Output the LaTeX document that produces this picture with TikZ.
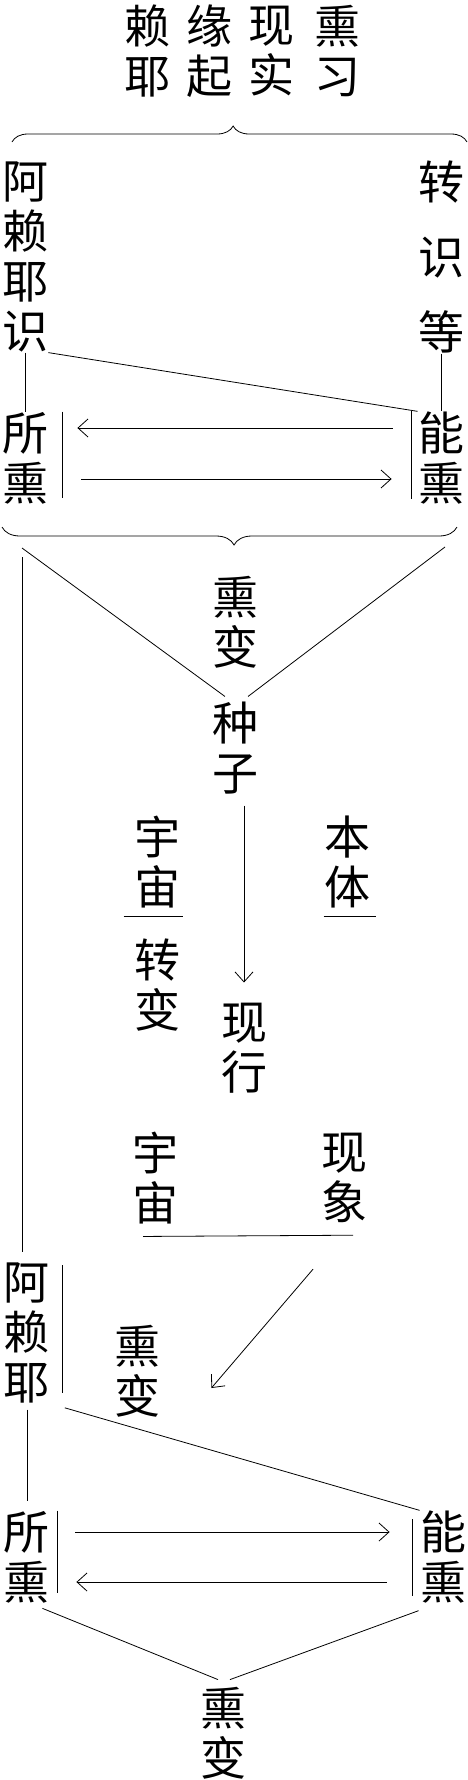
\documentclass[tikz,border=0pt]{standalone}
\usepackage{fontspec}
\newfontfamily\cjk{Noto Sans CJK SC}
\usetikzlibrary{arrows.meta,decorations.pathreplacing}
\tikzset{
  zi/.style={font=\cjk\fontsize{46pt}{50pt}\selectfont, align=center, inner sep=0pt},
  ziloose/.style={zi, font=\cjk\fontsize{46pt}{75pt}\selectfont},
  bracetop/.style={decorate, decoration={brace, amplitude=16pt, aspect=.486}},
  bracebot/.style={decorate, decoration={brace, mirror, amplitude=18pt, aspect=.51}},
}

\begin{document}
\begin{tikzpicture}[x=1pt, y=-1pt, line width=.8pt, >={Straight Barb[length=10pt,width=18pt]}]
  \useasboundingbox (0,0) rectangle (468,1780);
  \foreach \x/\a/\b [count=\i] in {147/赖/耶, 209/缘/起, 271/现/实, 337/熏/习}
    \node[zi] (top\i) at (\x,51) {\a\\\b};
  \coordinate (br1w) at (12,142);
  \coordinate (br1e) at (467,142);
  \draw[bracetop] (br1w) -- (br1e);

  \node[zi] (alaya1) at (25,257) {阿\\赖\\耶\\识};
  \node[ziloose] (zhuan) at (441,257) {转\\识\\等};
  \node[zi] (suo1) at (25,458) {所\\熏};
  \node[zi] (neng1) at (441,458) {能\\熏};
  \draw (alaya1) -- (suo1);
  \draw (zhuan) -- (neng1);
  \draw (alaya1.south east) -- (neng1.north west);
  \draw ([xshift=14pt]suo1.north east) -- ([shift={(14pt,6pt)}]suo1.south east);
  \draw ([xshift=-6pt]neng1.north west) -- ([shift={(-6pt,6pt)}]neng1.south west);
  \draw[->] ([shift={(-25pt,30pt)}]neng1.west) -- ([shift={(29pt,30pt)}]suo1.east);
  \draw[->] ([shift={(33pt,-21pt)}]suo1.east) -- ([shift={(-26pt,-21pt)}]neng1.west);

  \coordinate (br2w) at (2,527);
  \coordinate (br2e) at (457,527);
  \draw[bracebot] (br2w) -- (br2e);
  \coordinate (lv) at (22,557);
  \coordinate (vl) at (22,548);
  \coordinate (vr) at (445,547);

  \node[zi] (xunbian1) at (235,622) {熏\\变};
  \node[zi] (zhongzi) at (235,748) {种\\子};
  \draw (vl) -- ([shift={(-10pt,5pt)}]zhongzi.north);
  \draw (vr) -- ([shift={(13pt,5pt)}]zhongzi.north);

  \node[zi] (yuzhou1) at (157,862) {宇\\宙};
  \node[zi] (benti) at (347,862) {本\\体};
  \node[zi] (zhuanbian) at (157,985) {转\\变};
  \node[zi] (xianxing) at (244,1048) {现\\行};
  \draw[->, shorten <=11pt, shorten >=20pt] (xianxing |- zhongzi.south) -- (xianxing.north);
  \draw ([shift={(-10pt,-8pt)}]yuzhou1.south west) -- ([shift={(3pt,-8pt)}]yuzhou1.south east);
  \draw ([shift={(0pt,-8pt)}]benti.south west) -- ([shift={(6pt,-8pt)}]benti.south east);

  \node[zi] (yuzhou2) at (155,1178) {宇\\宙};
  \node[zi] (xianxiang) at (344,1178) {现\\象};
  \draw ([shift={(-12pt,-12pt)}]yuzhou2.south) -- ([shift={(9pt,-12pt)}]xianxiang.south);

  \node[zi] (alaya2) at (27,1333) {阿\\赖\\耶};
  \node[zi] (xunbian2) at (137,1371) {熏\\变};
  \draw[shorten >=10pt] (lv) -- (lv |- alaya2.north);
  \draw[->] ([shift={(-31pt,-46pt)}]xianxiang.south) -- ([shift={(51pt,-17pt)}]xunbian2.east);
  \draw ([shift={(12pt,-3pt)}]alaya2.north east) -- ([shift={(12pt,11pt)}]alaya2.south east);

  \node[zi] (suo2) at (27,1557) {所\\熏};
  \node[zi] (neng2) at (443,1557) {能\\熏};
  \draw[shorten <=15pt] (alaya2.south east) -- (neng2.north west);
  \draw[shorten <=6pt, shorten >=10pt] (alaya2.south) -- (suo2.north);
  \draw ([xshift=7pt]suo2.north east) -- ([shift={(7pt,10pt)}]suo2.south east);
  \draw ([shift={(-7pt,-9pt)}]neng2.north west) -- ([shift={(-7pt,8pt)}]neng2.south west);
  \draw[->] ([shift={(25pt,25pt)}]suo2.east) -- ([shift={(-30pt,25pt)}]neng2.west);
  \draw[->] ([shift={(-33pt,-25pt)}]neng2.west) -- ([shift={(26pt,-25pt)}]suo2.east);

  \node[zi] (xunbian3) at (223,1733) {熏\\变};
  \draw ([shift={(-8pt,-5pt)}]suo2.south east) -- ([shift={(-5pt,7pt)}]xunbian3.north);
  \draw ([shift={(-1pt,-7pt)}]neng2.south west) -- ([shift={(7pt,7pt)}]xunbian3.north);
\end{tikzpicture}
\end{document}
